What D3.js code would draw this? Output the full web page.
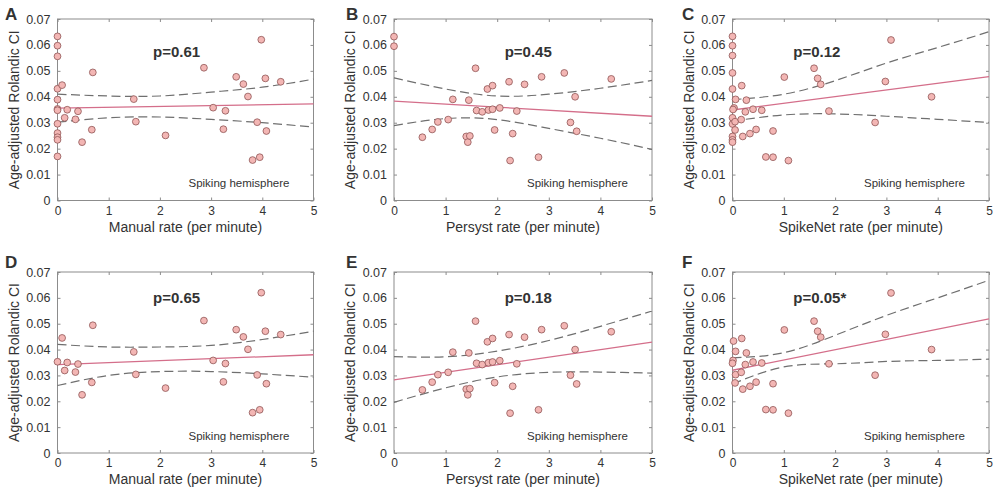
<!DOCTYPE html>
<html><head><meta charset="utf-8">
<script src="https://cdn.jsdelivr.net/npm/d3@7"></script>
<style>
body{margin:0;background:#fff;}
text{font-family:'Liberation Sans',Arial,sans-serif;fill:#333;}
</style>
</head><body>
<svg id="c" width="998" height="493"></svg>
<script>
// ---------- data ----------
const panelLetters = ["A","B","C","D","E","F"];
const xLabels = ["Manual rate (per minute)","Persyst rate (per minute)","SpikeNet rate (per minute)"];
const yLabel = "Age-adjusted Rolandic CI";
const pLabels = ["p=0.61","p=0.45","p=0.12","p=0.65","p=0.18","p=0.05*"];
const noteLabel = "Spiking hemisphere";
const xTicks = [0,1,2,3,4,5];
const yTicks = [0,0.01,0.02,0.03,0.04,0.05,0.06,0.07];
const ciX = [0,1,2,3,4,5];
const fitX = [0,5];

// A: manual (all patients)
const aX = [0,0,0,0,0,0,0,0,0,0,0,0,0.09,0.14,0.19,0.35,0.40,0.48,0.67,0.69,1.49,1.53,2.11,2.86,3.04,3.24,3.28,3.49,3.63,3.72,3.81,3.90,3.95,3.98,4.06,4.08,4.36];
const aY = [0.0633,0.0597,0.0556,0.0431,0.0389,0.0353,0.0348,0.0296,0.0260,0.0244,0.0234,0.0170,0.0445,0.0319,0.0350,0.0313,0.0344,0.0225,0.0273,0.0494,0.0391,0.0304,0.0251,0.0512,0.0358,0.0275,0.0346,0.0477,0.0449,0.0401,0.0156,0.0302,0.0167,0.0620,0.0471,0.0268,0.0458];
const aFit = [0.0356,0.0373];
const aUp = [0.0410,0.0403,0.0403,0.0418,0.0437,0.0468];
const aLo = [0.0302,0.0319,0.0322,0.0313,0.0300,0.0283];

// B: Persyst (all patients)
const bX = [0,0,0.55,0.74,0.85,1.05,1.14,1.40,1.43,1.47,1.45,1.58,1.60,1.71,1.81,1.83,1.91,1.91,1.95,2.05,2.23,2.25,2.30,2.38,2.53,2.80,2.86,3.30,3.42,3.51,3.54,4.21];
const bY = [0.0632,0.0595,0.0244,0.0274,0.0303,0.0312,0.0390,0.0247,0.0225,0.0249,0.0387,0.0510,0.0347,0.0342,0.0430,0.0349,0.0443,0.0352,0.0272,0.0357,0.0458,0.0154,0.0258,0.0345,0.0448,0.0167,0.0477,0.0492,0.0301,0.0400,0.0267,0.0469];
const bFit = [0.0383,0.0325];
const bUp = [0.0473,0.0430,0.0403,0.0410,0.0433,0.0463];
const bLo = [0.0289,0.0316,0.0312,0.0278,0.0240,0.0197];

// C: SpikeNet (all patients)
const cX = [0,0,0,0,0,0.06,0.03,0.01,0,0,0.05,0.05,0,0,0,0.18,0.27,0.25,0.17,0.20,0.40,0.34,0.46,0.57,0.65,0.79,0.79,1.09,1.01,1.59,1.66,1.72,1.88,2.78,2.98,3.09,3.88];
const cY = [0.0633,0.0597,0.0559,0.0492,0.0430,0.0390,0.0357,0.0351,0.0319,0.0295,0.0304,0.0272,0.0247,0.0234,0.0225,0.0443,0.0387,0.0342,0.0312,0.0247,0.0352,0.0258,0.0274,0.0348,0.0168,0.0268,0.0167,0.0154,0.0476,0.0510,0.0471,0.0448,0.0345,0.0301,0.0459,0.0619,0.0400];
const cFit = [0.0349,0.0478];
const cUp = [0.0389,0.0410,0.0462,0.0530,0.0590,0.0651];
const cLo = [0.0306,0.0330,0.0334,0.0325,0.0313,0.0301];

// D: manual (subset)
const dX = [0,0.09,0.14,0.19,0.35,0.40,0.48,0.67,0.69,1.49,1.53,2.11,2.86,3.04,3.24,3.28,3.49,3.63,3.72,3.81,3.90,3.95,3.98,4.06,4.08,4.36];
const dY = [0.0353,0.0445,0.0319,0.0350,0.0313,0.0344,0.0225,0.0273,0.0494,0.0391,0.0304,0.0251,0.0512,0.0358,0.0275,0.0346,0.0477,0.0449,0.0401,0.0156,0.0302,0.0167,0.0620,0.0471,0.0268,0.0458];
const dFit = [0.0342,0.0380];
const dUp = [0.0420,0.0410,0.0410,0.0416,0.0439,0.0471];
const dLo = [0.0261,0.0300,0.0315,0.0315,0.0306,0.0293];

// E: Persyst (subset)
const eX = [0.55,0.74,0.85,1.05,1.14,1.40,1.43,1.47,1.45,1.58,1.60,1.71,1.81,1.83,1.91,1.91,1.95,2.05,2.23,2.25,2.30,2.38,2.53,2.80,2.86,3.30,3.42,3.51,3.54,4.21];
const eY = [0.0244,0.0274,0.0303,0.0312,0.0390,0.0247,0.0225,0.0249,0.0387,0.0510,0.0347,0.0342,0.0430,0.0349,0.0443,0.0352,0.0272,0.0357,0.0458,0.0154,0.0258,0.0345,0.0448,0.0167,0.0477,0.0492,0.0301,0.0400,0.0267,0.0469];
const eFit = [0.0283,0.0429];
const eUp = [0.0373,0.0372,0.0394,0.0435,0.0490,0.0549];
const eLo = [0.0196,0.0252,0.0294,0.0312,0.0313,0.0309];

// F: SpikeNet (subset)
const fX = [0.02,0.06,0.01,0,0.06,0.05,0.18,0.27,0.25,0.17,0.20,0.40,0.34,0.46,0.57,0.65,0.79,0.79,1.09,1.01,1.59,1.66,1.72,1.88,2.78,2.98,3.09,3.88];
const fY = [0.0433,0.0393,0.0358,0.0347,0.0303,0.0271,0.0443,0.0387,0.0342,0.0312,0.0247,0.0352,0.0258,0.0274,0.0348,0.0168,0.0268,0.0167,0.0154,0.0476,0.0510,0.0471,0.0448,0.0345,0.0301,0.0459,0.0619,0.0400];
const fFit = [0.0320,0.0519];
const fUp = [0.0368,0.0388,0.0455,0.0532,0.0600,0.0668];
const fLo = [0.0267,0.0333,0.0345,0.0354,0.0358,0.0363];

// ---------- layout ----------
const colX = [[57.5,313.5],[394,652],[732.5,989]];
const rowY = [[19,200.5],[272,453]];
const letterX = [5,346,682];
const letterBase = [20,268];
const pOffset = [95.5,110.7,60.8];
const pBase = [56.5,303];

const panels = [
  {xs:aX, ys:aY, fit:aFit, up:aUp, lo:aLo},
  {xs:bX, ys:bY, fit:bFit, up:bUp, lo:bLo},
  {xs:cX, ys:cY, fit:cFit, up:cUp, lo:cLo},
  {xs:dX, ys:dY, fit:dFit, up:dUp, lo:dLo},
  {xs:eX, ys:eY, fit:eFit, up:eUp, lo:eLo},
  {xs:fX, ys:fY, fit:fFit, up:fUp, lo:fLo}
];

const svg = d3.select("#c");

panels.forEach((p, i) => {
  const col = i % 3, row = Math.floor(i / 3);
  const [x0, x1] = colX[col];
  const [y0, y1] = rowY[row];
  const x = d3.scaleLinear().domain([0,5]).range([x0, x1]);
  const y = d3.scaleLinear().domain([0,0.07]).range([y1, y0]);
  const g = svg.append("g");

  // frame
  g.append("rect").attr("x", x0).attr("y", y0).attr("width", x1 - x0).attr("height", y1 - y0)
    .attr("fill", "none").attr("stroke", "#8c8c8c").attr("stroke-width", 1);

  // axes (ticks inward, all four sides)
  const fmtY = d => d === 0 ? "0" : d3.format(".2f")(d);
  const axL = g.append("g").attr("transform", `translate(${x0},0)`)
    .call(d3.axisLeft(y).tickValues(yTicks).tickSize(-3).tickPadding(7).tickFormat(fmtY));
  const axB = g.append("g").attr("transform", `translate(0,${y1})`)
    .call(d3.axisBottom(x).tickValues(xTicks).tickSize(-3).tickPadding(5.5).tickFormat(d3.format("d")));
  const axR = g.append("g").attr("transform", `translate(${x1},0)`)
    .call(d3.axisRight(y).tickValues(yTicks).tickSize(-3).tickFormat(""));
  const axT = g.append("g").attr("transform", `translate(0,${y0})`)
    .call(d3.axisTop(x).tickValues(xTicks).tickSize(-3).tickFormat(""));
  [axL, axB, axR, axT].forEach(a => {
    a.select(".domain").remove();
    a.selectAll(".tick line").attr("stroke", "#8c8c8c");
    a.selectAll("text").attr("font-size", 12.5).attr("fill", "#333")
      .attr("font-family", "'Liberation Sans',Arial,sans-serif");
  });
  axB.selectAll("text").attr("font-size", 12);

  // CI dashed curves
  const ciLine = d3.line().x((d, k) => x(ciX[k])).y(d => y(d)).curve(d3.curveNatural);
  [p.up, p.lo].forEach(arr => {
    g.append("path").attr("d", ciLine(arr)).attr("fill", "none")
      .attr("stroke", "#6f6f6f").attr("stroke-width", 1.2).attr("stroke-dasharray", "9,4.5");
  });

  // fit line
  const fitLine = d3.line().x((d, k) => x(fitX[k])).y(d => y(d));
  g.append("path").attr("d", fitLine(p.fit)).attr("fill", "none")
    .attr("stroke", "#d46e8a").attr("stroke-width", 1.3);

  // points
  g.selectAll("circle.pt").data(p.xs.map((v, k) => [v, p.ys[k]])).join("circle")
    .attr("class", "pt").attr("cx", d => x(d[0])).attr("cy", d => y(d[1])).attr("r", 3.4)
    .attr("fill", "#f3b6b4").attr("stroke", "#8f5656").attr("stroke-width", 0.8);

  // texts
  g.append("text").attr("x", (x0 + x1) / 2).attr("y", y1 + 31).attr("text-anchor", "middle")
    .attr("font-size", 14).text(xLabels[col]);
  g.append("text").attr("transform", `translate(${x0 - 39},${(y0 + y1) / 2}) rotate(-90)`)
    .attr("text-anchor", "middle").attr("font-size", 14).text(yLabel);
  g.append("text").attr("x", letterX[col]).attr("y", letterBase[row]).attr("font-size", 17)
    .attr("font-weight", "bold").attr("fill", "#000").text(panelLetters[i]);
  g.append("text").attr("x", x0 + pOffset[col]).attr("y", pBase[row]).attr("font-size", 15)
    .attr("font-weight", "bold").attr("fill", "#111").text(pLabels[i]);
  g.append("text").attr("x", x1 - 24).attr("y", y1 - 13.5).attr("text-anchor", "end")
    .attr("font-size", 11.5).attr("fill", "#222").text(noteLabel);
});
</script>
</body></html>
